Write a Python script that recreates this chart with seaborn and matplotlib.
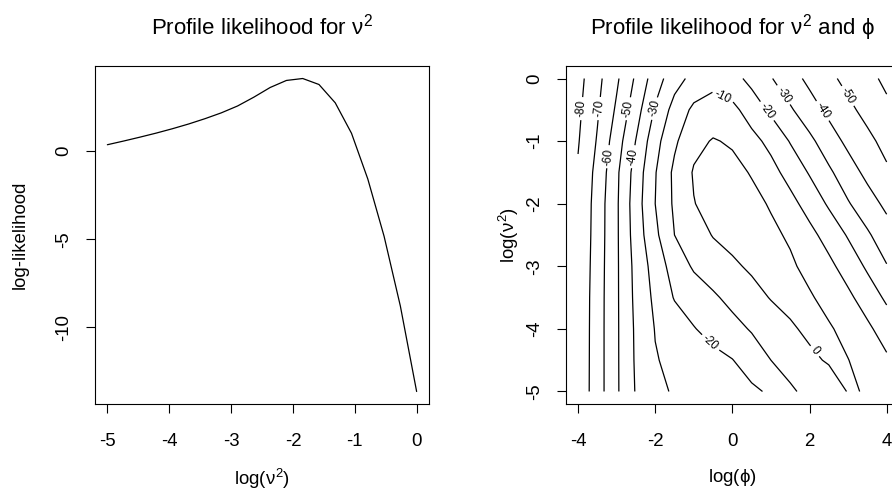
import matplotlib
matplotlib.use("Agg")
import matplotlib.pyplot as plt
import seaborn as sns
import numpy as np
import pandas as pd

# ---------------- data: left panel (profile likelihood for nu^2) -------------
log_nu2 = [-5.000, -4.737, -4.474, -4.211, -3.947, -3.684, -3.421, -3.158,
           -2.895, -2.632, -2.368, -2.105, -1.842, -1.579, -1.316, -1.053,
           -0.789, -0.526, -0.263, 0.000]
loglik = [0.37, 0.58, 0.80, 1.03, 1.28, 1.55, 1.85, 2.18, 2.57, 3.07,
          3.62, 4.02, 4.13, 3.79, 2.75, 1.02, -1.58, -4.83, -8.79, -13.64]

# ---------------- data: right panel (profile likelihood surface) -------------
log_phi_grid = [-4.0, -3.5, -3.0, -2.5, -2.0, -1.5, -1.0, -0.5, 0.0,
                0.5, 1.0, 1.5, 2.0, 2.5, 3.0, 3.5, 4.0]
log_nu2_grid = [-5.0, -4.5, -4.0, -3.5, -3.0, -2.5, -2.0, -1.5, -1.0, -0.5, 0.0]

z_nu_m50 = [-77.4, -64.6, -51.4, -39.3, -33.4, -28.6, -27.2, -25.2, -23.2, -21.8, -18.6, -11.5, -7.2, -3.4, 0.3, -0.2, -5.5]
z_nu_m45 = [-77.6, -64.6, -51.4, -38.7, -30.6, -27.7, -25.2, -22.8, -20.3, -15.3, -10.0, -6.1, -1.2, 0.6, 0.2, -3.9, -8.5]
z_nu_m40 = [-77.8, -64.6, -51.4, -38.4, -29.6, -25.1, -20.5, -16.7, -13.0, -9.2, -5.2, -0.8, 1.2, 1.0, -2.8, -8.1, -14.5]
z_nu_m35 = [-78.0, -64.7, -51.4, -37.6, -27.9, -19.4, -15.4, -11.4, -7.4, -3.4, 0.5, 1.75, 1.0, -2.9, -8.0, -14.5, -21.7]
z_nu_m30 = [-78.5, -65.0, -51.4, -37.0, -25.9, -15.6, -8.8, -5.2, -1.6, 1.5, 2.4, 1.4, -2.6, -7.7, -14.1, -21.5, -29.5]
z_nu_m25 = [-79.0, -65.4, -51.4, -35.5, -22.2, -10.0, -4.7, 0.5, 3.0, 3.4, 1.8, -1.2, -7.3, -13.6, -20.9, -28.6, -35.7]
z_nu_m20 = [-79.5, -65.6, -51.4, -34.7, -20.0, -8.4, -0.3, 3.0, 4.0, 2.4, -0.8, -7.1, -13.7, -21.3, -29.2, -35.8, -42.2]
z_nu_m15 = [-79.0, -67.1, -51.9, -35.9, -20.6, -7.9, 0.8, 3.5, 2.5, -0.6, -6.9, -13.4, -20.8, -28.3, -35.6, -42.5, -48.5]
z_nu_m10 = [-80.7, -69.2, -54.7, -39.7, -23.4, -11.7, -2.5, 0.6, -1.0, -7.1, -12.6, -20.6, -27.7, -35.4, -42.3, -47.6, -53.0]
z_nu_m05 = [-82.0, -71.1, -58.5, -44.3, -28.9, -16.3, -8.0, -5.2, -7.5, -14.3, -21.9, -28.8, -35.9, -42.3, -47.8, -53.0, -58.0]
z_nu_00 = [-83.4, -72.8, -61.6, -48.5, -34.8, -23.9, -17.0, -13.6, -16.5, -22.9, -29.4, -36.1, -42.3, -47.8, -52.8, -57.4, -62.0]

contour_levels = [-80, -70, -60, -50, -40, -30, -20, -10, 0]
label_spots = [(-3.92, -0.48), (-3.45, -0.48), (-2.72, -0.48), (-2.02, -0.48),
               (-3.21, -1.25), (-2.56, -1.25), (-0.33, -0.40), (0.88, -0.53),
               (1.31, -0.27), (2.31, -0.53), (2.96, -0.29), (-0.55, -4.21),
               (2.09, -4.38)]

# ---------------- styling ----------------------------------------------------
sns.set_theme(style="ticks")
plt.rcParams.update({
    "font.family": ["Liberation Sans", "DejaVu Sans"],
    "mathtext.fontset": "custom",
    "mathtext.rm": "Liberation Sans",
    "mathtext.it": "Liberation Sans",
    "mathtext.bf": "Liberation Sans:bold",
    "axes.unicode_minus": False,
    "axes.edgecolor": "black",
    "axes.linewidth": 0.8,
    "xtick.color": "black",
    "ytick.color": "black",
    "text.color": "black",
    "axes.labelcolor": "black",
    "contour.negative_linestyle": "solid",
})

FS = 13.4
fig = plt.figure(figsize=(8.92, 4.92), dpi=100)
fig.patch.set_facecolor("white")
ax1 = fig.add_axes([95 / 892, 88 / 492, 334 / 892, 338 / 492])
ax2 = fig.add_axes([565.7 / 892, 88 / 492, 333.3 / 892, 338 / 492])

# left panel
df = pd.DataFrame({"log_nu2": log_nu2, "loglik": loglik})
sns.lineplot(data=df, x="log_nu2", y="loglik", ax=ax1, color="black",
             linewidth=0.9, sort=False)
ax1.set_xlim(-5.2, 0.2)
ax1.set_ylim(-14.35, 4.84)
ax1.set_xticks([-5, -4, -3, -2, -1, 0])
ax1.set_xticklabels(["-5", "-4", "-3", "-2", "-1", "0"])
ax1.set_yticks([-10, -5, 0])
ax1.set_yticklabels(["-10", "-5", "0"], rotation=90, va="center")
ax1.set_xlabel("log($\\nu^2$)", fontsize=FS, labelpad=12)
ax1.set_ylabel("log-likelihood", fontsize=FS, labelpad=19)
ax1.set_title("Profile likelihood for $\\nu^2$", fontsize=16, pad=23)

# right panel
Z = np.array([z_nu_m50, z_nu_m45, z_nu_m40, z_nu_m35, z_nu_m30, z_nu_m25,
              z_nu_m20, z_nu_m15, z_nu_m10, z_nu_m05, z_nu_00])
X, Y = np.meshgrid(log_phi_grid, log_nu2_grid)
cs = ax2.contour(X, Y, Z, levels=contour_levels, colors="black",
                 linewidths=0.9, linestyles="solid")
ax2.clabel(cs, fmt="%d", fontsize=8.5, inline=True, inline_spacing=4,
           manual=label_spots)
ax2.set_xlim(-4.32, 4.32)
ax2.set_ylim(-5.2, 0.2)
ax2.set_xticks([-4, -2, 0, 2, 4])
ax2.set_xticklabels(["-4", "-2", "0", "2", "4"])
ax2.set_yticks([-5, -4, -3, -2, -1, 0])
ax2.set_yticklabels(["-5", "-4", "-3", "-2", "-1", "0"], rotation=90, va="center")
ax2.set_xlabel("log($\\phi$)", fontsize=FS, labelpad=12)
ax2.set_ylabel("log($\\nu^2$)", fontsize=FS, labelpad=4)
ax2.set_title("Profile likelihood for $\\nu^2$ and $\\phi$", fontsize=16, pad=23)

for ax in (ax1, ax2):
    for sp in ax.spines.values():
        sp.set_visible(True)
        sp.set_color("black")
        sp.set_linewidth(0.8)
    ax.tick_params(axis="both", direction="out", length=6.5, width=0.8,
                   labelsize=FS, color="black")
    ax.tick_params(axis="x", pad=14.3)
    ax.tick_params(axis="y", pad=9.7)
    ax.set_facecolor("white")
    ax.grid(False)

fig.savefig("out.png", dpi=100)
